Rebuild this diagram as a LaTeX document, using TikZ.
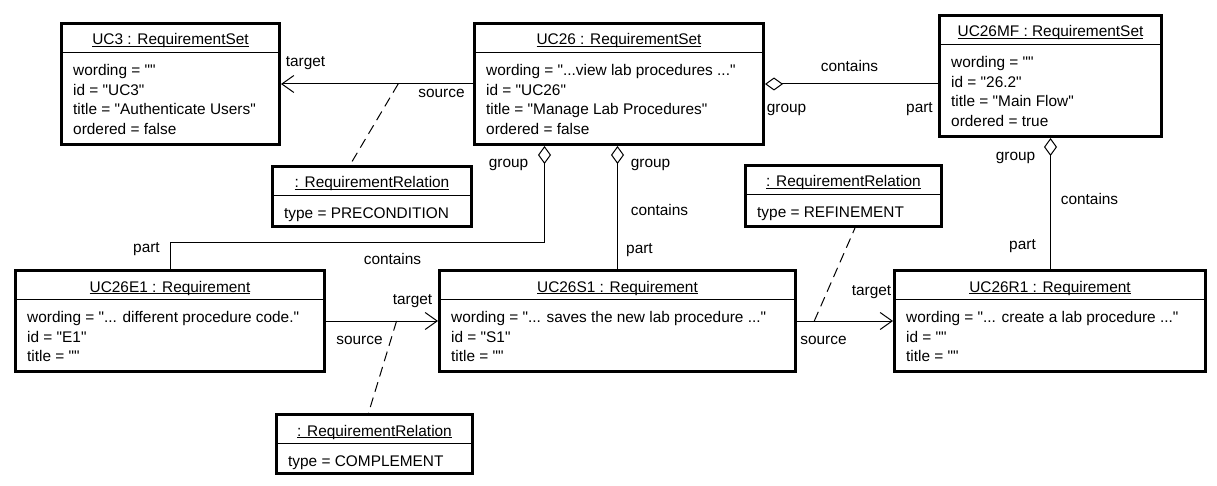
\documentclass[tikz,border=0pt]{standalone}
\usepackage{fontspec}
\setmainfont{Liberation Sans}[Ligatures=TeXOff]
\usetikzlibrary{arrows.meta}
\newcommand{\objname}[1]{\setbox0\hbox{#1}\rlap{\rule[-1.7pt]{\wd0}{0.9pt}}\box0}

\begin{document}
\begin{tikzpicture}[x=1pt,y=-1pt,font=\fontsize{15.4}{19.6}\selectfont,
  obj/.style={draw,line width=3pt,anchor=north west,inner sep=0pt},
  ttl/.style={anchor=base,inner sep=0pt},
  attrs/.style={anchor=north west,align=left,inner sep=0pt},
  lbl/.style={inner sep=0pt},
  link/.style={line width=1pt,-{Straight Barb[length=12pt,width=17pt,line width=1pt]}},
  agg/.style={line width=1pt,{Diamond[open,length=18pt,width=13pt,line width=1pt]}-},
  note/.style={line width=1pt,dash pattern=on 10pt off 6pt}]
  \useasboundingbox (0,0) rectangle (1217,486);
  % requirement sets
  \node[obj,minimum width=218pt,minimum height=121pt] (uc3) at (60,22) {};
  \node[ttl] (uc3t) at ([shift={(0,23)}]uc3.north) {\objname{UC3 : RequirementSet}};
  \node[attrs] (uc3a) at ([shift={(13,39.5)}]uc3.north west)
    {\rule{0pt}{14pt}wording = ""\\id = "UC3"\\title = "Authenticate Users"\\ordered = false};
  \node[obj,minimum width=289pt,minimum height=121pt] (uc26) at (473,22) {};
  \node[ttl] (uc26t) at ([shift={(0,23)}]uc26.north) {\objname{UC26 : RequirementSet}};
  \node[attrs] (uc26a) at ([shift={(13,39.5)}]uc26.north west)
    {\rule{0pt}{14pt}wording = "...view lab procedures ..."\\id = "UC26"\\title = "Manage Lab Procedures"\\ordered = false};
  \node[obj,minimum width=222pt,minimum height=121pt] (uc26mf) at (938,14) {};
  \node[ttl] (uc26mft) at ([shift={(0,23)}]uc26mf.north) {\objname{UC26MF : RequirementSet}};
  \node[attrs] (uc26mfa) at ([shift={(13,39.5)}]uc26mf.north west)
    {\rule{0pt}{14pt}wording = ""\\id = "26.2"\\title = "Main Flow"\\ordered = true};
  % requirements
  \node[obj,minimum width=309pt,minimum height=101pt] (e1) at (14,269) {};
  \node[ttl] (e1t) at ([shift={(0,23)}]e1.north) {\objname{UC26E1 : Requirement}};
  \node[attrs] (e1a) at ([shift={(13,39.5)}]e1.north west)
    {\rule{0pt}{14pt}wording = "... different procedure code."\\id = "E1"\\title = ""};
  \node[obj,minimum width=356pt,minimum height=101pt] (s1) at (438,269) {};
  \node[ttl] (s1t) at ([shift={(0,23)}]s1.north) {\objname{UC26S1 : Requirement}};
  \node[attrs] (s1a) at ([shift={(13,39.5)}]s1.north west)
    {\rule{0pt}{14pt}wording = "... saves the new lab procedure ..."\\id = "S1"\\title = ""};
  \node[obj,minimum width=311pt,minimum height=101pt] (r1) at (893,269) {};
  \node[ttl] (r1t) at ([shift={(0,23)}]r1.north) {\objname{UC26R1 : Requirement}};
  \node[attrs] (r1a) at ([shift={(13,39.5)}]r1.north west)
    {\rule{0pt}{14pt}wording = "... create a lab procedure ..."\\id = ""\\title = ""};
  % relations
  \node[obj,minimum width=199pt,minimum height=60pt] (pre) at (271,165) {};
  \node[ttl] (pret) at ([shift={(0,23)}]pre.north) {\objname{: RequirementRelation}};
  \node[attrs] (prea) at ([shift={(13,39.5)}]pre.north west) {\rule{0pt}{14pt}type = PRECONDITION};
  \node[obj,minimum width=196pt,minimum height=61pt] (ref) at (744,164) {};
  \node[ttl] (reft) at ([shift={(0,23)}]ref.north) {\objname{: RequirementRelation}};
  \node[attrs] (refa) at ([shift={(13,39.5)}]ref.north west) {\rule{0pt}{14pt}type = REFINEMENT};
  \node[obj,minimum width=196pt,minimum height=59pt] (comp) at (275,413) {};
  \node[ttl] (compt) at ([shift={(0,23)}]comp.north) {\objname{: RequirementRelation}};
  \node[attrs] (compa) at ([shift={(13,39.5)}]comp.north west) {\rule{0pt}{14pt}type = COMPLEMENT};
  \foreach \n in {uc3,uc26,uc26mf,e1,s1,r1,pre,ref,comp}
    \draw[line width=0.6pt] ([shift={(1.5,30)}]\n.north west) -- ([shift={(-1.5,30)}]\n.north east);

  % directed relations
  \draw[link] (uc26.west) -- (uc3.east) coordinate[pos=.39] (m1)
    node[lbl,at start,shift={(-31.5,9.5)}] {source}
    node[lbl,at end,shift={(24.5,-20.5)}] {target};
  \draw[note] (m1) -- ([xshift=-22pt]pre.north);
  \draw[link] (e1.east) -- (s1.west) coordinate[pos=.63] (m2)
    node[lbl,at start,shift={(33.5,19.5)}] {source}
    node[lbl,at end,shift={(-25.5,-19.5)}] {target};
  \draw[note] (m2) -- ([xshift=-6pt]comp.north);
  \draw[link] (s1.east) -- (r1.west) coordinate[pos=.18] (m3)
    node[lbl,at start,shift={(26.5,19.5)}] {source}
    node[lbl,at end,shift={(-21.5,-28.5)}] {target};
  \draw[note] (m3) -- ([xshift=11.5pt]ref.south);

  % aggregations
  \draw[agg] (uc26.east) -- (uc26.east -| uc26mf.west)
    node[lbl,at start,shift={(21.5,25.5)}] {group}
    node[lbl,at start,shift={(84.5,-18.5)}] {contains}
    node[lbl,at end,shift={(-18.5,25.5)}] {part};
  \draw[agg] ([xshift=71.5pt]uc26.south west) -- ++(0,97)
    node[lbl,at start,shift={(-36,18.5)}] {group}
    node[lbl,at start,shift={(-152,112.5)}] {contains}
    -| (e1.north) node[lbl,at end,shift={(-23.5,-19.5)}] {part};
  \draw[agg] (s1.north |- uc26.south) -- (s1.north)
    node[lbl,at start,shift={(33,18.5)}] {group}
    node[lbl,at start,shift={(42,63.5)}] {contains}
    node[lbl,at end,shift={(22,-18.5)}] {part};
  \draw[agg] (uc26mf.south) -- (uc26mf.south |- r1.north)
    node[lbl,at start,shift={(-35,19.5)}] {group}
    node[lbl,at start,shift={(39,60.5)}] {contains}
    node[lbl,at end,shift={(-28,-22.5)}] {part};
\end{tikzpicture}
\end{document}
